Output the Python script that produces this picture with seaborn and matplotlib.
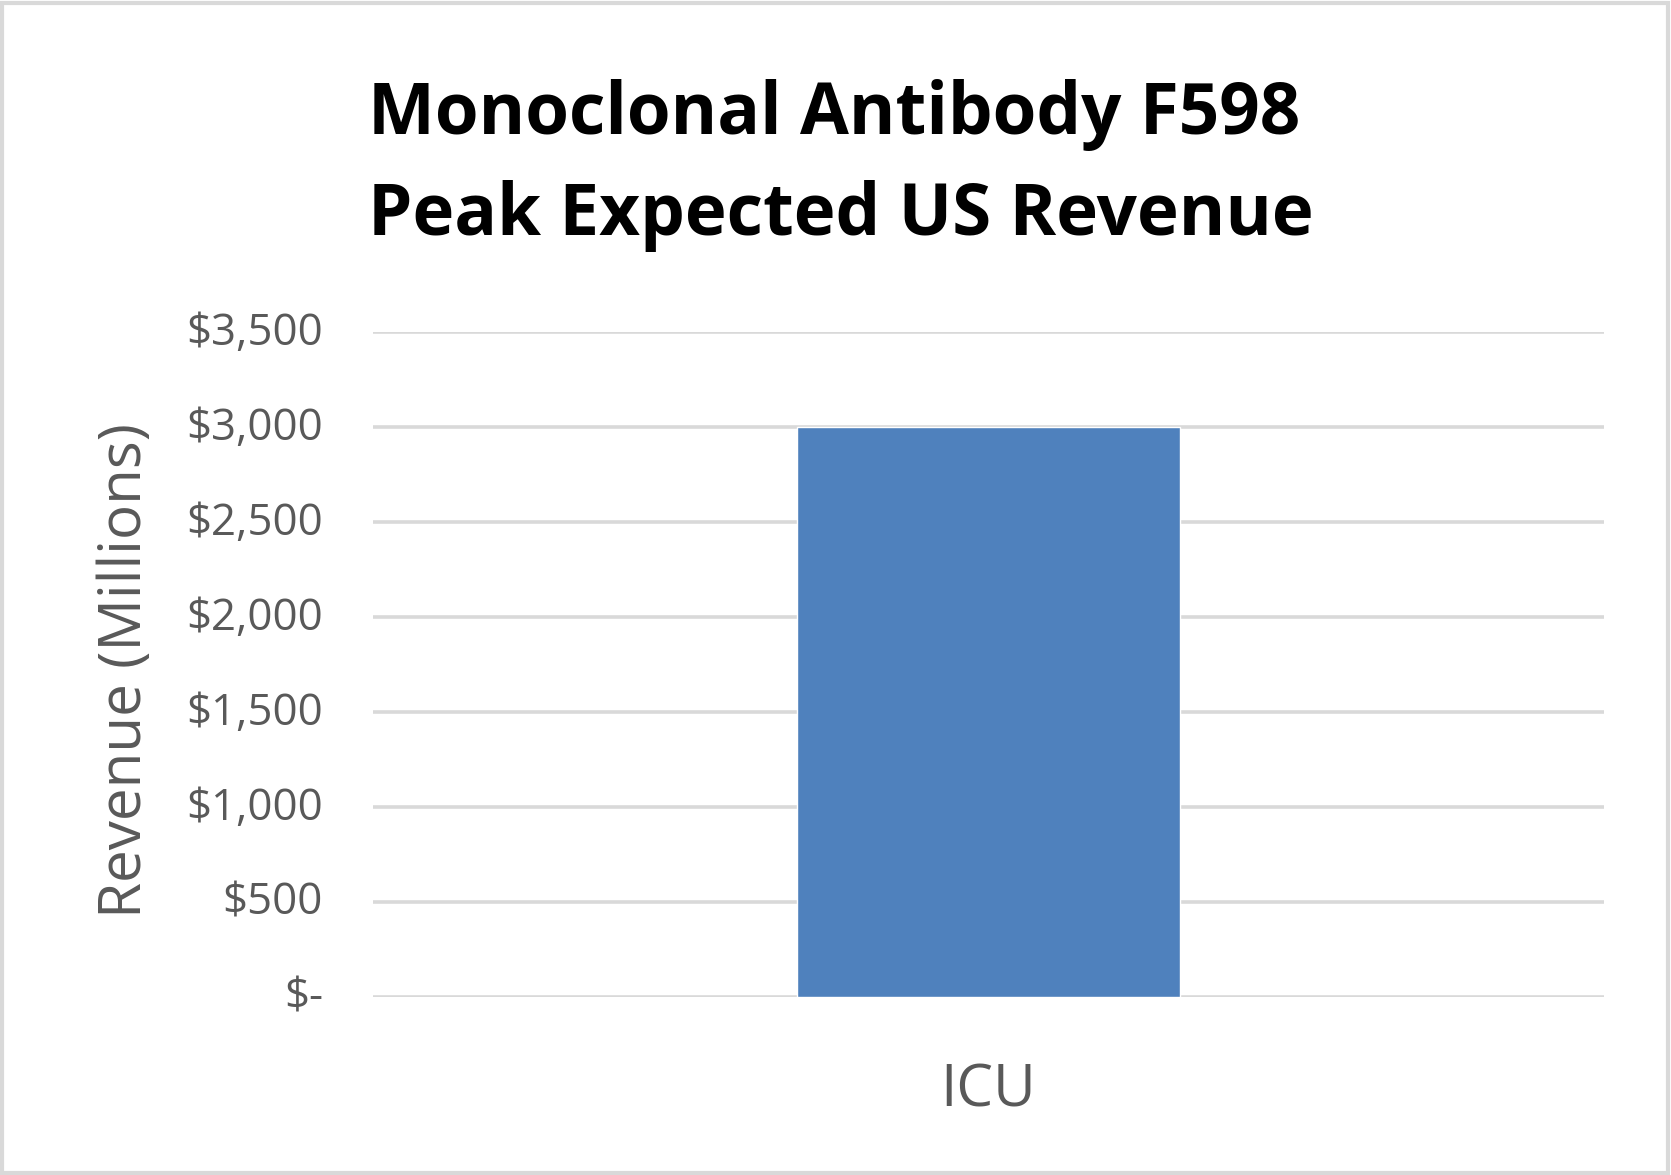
import matplotlib
matplotlib.use("Agg")
import matplotlib.pyplot as plt
import matplotlib.transforms as mtransforms
import seaborn as sns
import pandas as pd
from matplotlib.patches import Rectangle
from matplotlib.ticker import FuncFormatter

categories = ["ICU"]
revenue = [3000]
y_ticks = [0, 500, 1000, 1500, 2000, 2500, 3000, 3500]
title_lines = ["Monoclonal Antibody F598", "Peak Expected US Revenue"]
y_label = "Revenue (Millions)"

sns.set_theme(style="white")
FONT = "Open Sans"
plt.rcParams["font.family"] = [FONT, "DejaVu Sans"]

W, H, DPI = 1671, 1175, 100
fig = plt.figure(figsize=(W / DPI, H / DPI), dpi=DPI)
fig.patch.set_facecolor("white")

L, R, T, B = 373, 1604, 332, 997
ax = fig.add_axes([L / W, 1 - B / H, (R - L) / W, (B - T) / H])

df = pd.DataFrame({"cat": categories, "rev": revenue})
sns.barplot(data=df, x="cat", y="rev", color="#4f81bd", saturation=1, width=0.311, ax=ax)

ax.set_xlim(-0.5, 0.5)
ax.set_ylim(0, 3500)
ax.set_yticks(y_ticks)

def fmt(v, pos):
    return "$-" if v == 0 else "${:,.0f}".format(v)

ax.yaxis.set_major_formatter(FuncFormatter(fmt))
ax.grid(axis="y", color="#d9d9d9", linewidth=2.6)
ax.set_axisbelow(True)
for s in ax.spines.values():
    s.set_visible(False)
ax.tick_params(axis="y", length=0, pad=36, labelsize=31.5, labelcolor="#595959")
ax.tick_params(axis="x", length=0, pad=47, labelsize=42, labelcolor="#595959")
ax.set_xlabel("")
ax.set_ylabel("")

shift = mtransforms.ScaledTranslation(0, 4 / DPI, fig.dpi_scale_trans)
for lab in ax.get_yticklabels():
    lab.set_transform(lab.get_transform() + shift)

fig.text(126 / W, 1 - 671 / H, y_label, rotation=90, ha="center", va="center",
         fontsize=42, color="#595959")

fig.text(368 / W, 1 - 134 / H, title_lines[0], ha="left", va="baseline",
         fontsize=51, fontweight="bold", color="black")
fig.text(368 / W, 1 - 235 / H, title_lines[1], ha="left", va="baseline",
         fontsize=51, fontweight="bold", color="black")

fig.patches.append(Rectangle((2 / W, 2 / H), (W - 5) / W, (H - 5) / H, transform=fig.transFigure,
                             fill=False, edgecolor="#d9d9d9", linewidth=3))

fig.savefig("out.png", dpi=DPI, facecolor="white")
